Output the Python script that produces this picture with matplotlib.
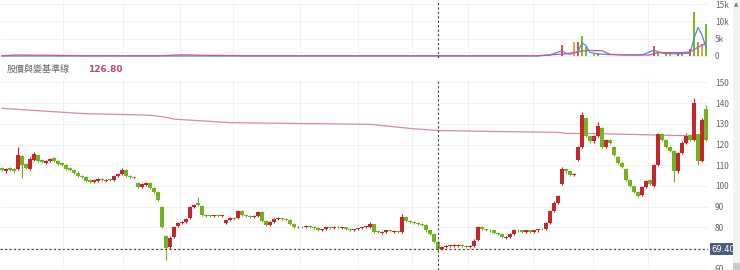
import numpy as np
import matplotlib
matplotlib.use("Agg")
import matplotlib.pyplot as plt
from matplotlib.patches import Rectangle

plt.rcParams['font.family'] = ['Noto Sans CJK TC', 'DejaVu Sans']

# daily candles
opens = [108.5, 107.0, 108.5, 108.0, 108.0, 114.5, 110.5, 108.0, 112.5, 115.0,
         112.5, 111.0, 112.0, 113.5, 112.0, 111.0, 110.0, 108.5, 107.5, 106.5,
         105.0, 104.5, 103.0, 102.0, 102.5, 103.5, 102.5, 103.2, 103.0, 105.0,
         106.0, 107.5, 105.0, 104.5, 101.5, 99.5, 100.5, 101.5, 99.0, 97.0,
         90.0, 76.0, 70.5, 75.5, 80.5, 82.0, 82.5, 84.5, 90.0, 92.0,
         90.5, 86.0, 85.8, 85.3, 86.0, 85.3, 82.0, 83.5, 84.5, 84.5,
         88.0, 86.0, 85.5, 85.0, 85.5, 87.5, 83.0, 81.0, 82.5, 84.0,
         84.5, 84.0, 83.5, 81.5, 80.0, 80.3, 80.0, 80.5, 80.0, 79.5,
         78.7, 79.0, 80.0, 79.5, 80.2, 79.6, 80.0, 79.2, 78.7, 79.0,
         79.5, 80.0, 80.0, 81.5, 78.0, 77.5, 78.0, 78.5, 78.0, 78.4,
         78.0, 85.0, 83.0, 82.7, 82.0, 81.5, 81.0, 78.5, 77.0, 73.0,
         69.4, 70.6, 71.0, 70.8, 71.0, 71.4, 71.2, 70.6, 71.0, 74.0,
         80.3, 79.0, 78.7, 78.5, 77.5, 77.0, 75.0, 75.5, 77.0, 78.7,
         78.5, 78.0, 78.5, 78.0, 78.5, 79.2, 79.0, 82.0, 88.0, 92.0,
         101.0, 108.0, 107.0, 105.5, 112.5, 119.0, 133.0, 124.0, 121.5, 124.0,
         128.0, 119.0, 122.0, 119.0, 114.0, 111.0, 108.0, 103.0, 100.0, 97.0,
         95.5, 99.5, 103.0, 100.0, 110.0, 125.0, 122.0, 119.0, 117.0, 107.0,
         116.0, 121.0, 124.5, 122.0, 125.0, 112.0, 137.0]
closes = [107.5, 108.0, 107.5, 107.0, 115.0, 110.0, 108.6, 113.0, 115.5, 112.0,
          111.5, 112.0, 113.0, 112.0, 110.5, 110.0, 108.0, 107.5, 106.5, 105.0,
          104.5, 102.5, 102.0, 103.0, 103.3, 102.8, 103.0, 102.8, 105.0, 106.0,
          107.7, 105.0, 104.3, 104.0, 99.6, 101.0, 101.5, 99.0, 97.0, 93.0,
          80.0, 70.0, 75.0, 80.0, 82.0, 82.5, 84.0, 90.0, 90.8, 91.0,
          86.0, 85.5, 85.5, 85.8, 85.5, 85.8, 83.5, 84.5, 84.0, 88.0,
          86.0, 85.5, 85.0, 85.5, 87.5, 83.0, 81.0, 82.5, 84.0, 84.5,
          84.0, 83.5, 81.5, 80.0, 80.3, 80.0, 80.5, 80.0, 79.5, 78.7,
          79.0, 80.0, 79.5, 80.2, 80.0, 80.0, 79.0, 78.7, 79.0, 79.5,
          80.0, 80.5, 81.5, 78.0, 77.9, 78.0, 78.5, 78.4, 78.4, 78.0,
          85.0, 83.0, 82.7, 82.0, 81.5, 81.0, 78.5, 77.0, 73.0, 69.4,
          70.6, 71.0, 71.0, 71.4, 71.4, 71.2, 70.6, 71.0, 73.5, 80.3,
          79.0, 78.7, 78.5, 77.5, 77.0, 75.5, 75.5, 77.0, 78.7, 78.5,
          78.0, 78.5, 78.0, 78.5, 79.0, 79.0, 82.0, 88.0, 92.0, 95.0,
          108.0, 107.0, 105.5, 106.0, 119.0, 134.5, 124.0, 121.5, 124.0, 129.0,
          119.0, 122.0, 121.0, 115.0, 111.0, 109.0, 103.0, 100.0, 97.0, 95.0,
          99.5, 102.5, 101.0, 110.0, 125.0, 122.0, 119.0, 117.0, 107.0, 116.0,
          121.0, 124.0, 122.0, 140.0, 112.0, 132.0, 122.0]
highs = [109.0, 108.5, 109.0, 108.5, 119.0, 115.0, 111.0, 114.0, 116.5, 115.5,
         113.0, 112.5, 113.5, 114.0, 112.5, 111.5, 110.5, 109.0, 108.0, 107.0,
         105.5, 105.0, 103.5, 103.5, 104.0, 104.0, 103.5, 103.7, 105.5, 106.5,
         108.5, 108.0, 105.5, 105.0, 102.0, 101.5, 102.0, 102.0, 99.5, 97.5,
         90.5, 76.5, 76.0, 80.5, 82.5, 83.0, 84.5, 90.5, 91.5, 94.8,
         91.0, 86.5, 86.0, 86.2, 86.3, 86.2, 84.0, 85.0, 85.0, 88.5,
         88.5, 86.5, 86.0, 85.8, 87.9, 87.8, 83.5, 83.0, 84.5, 85.0,
         85.0, 84.5, 84.0, 82.0, 80.8, 80.8, 81.0, 81.0, 80.5, 80.0,
         79.4, 80.4, 80.4, 80.6, 80.6, 80.4, 80.4, 79.5, 79.4, 79.9,
         80.4, 80.9, 82.7, 81.8, 78.4, 78.4, 78.9, 78.9, 78.8, 78.8,
         86.4, 85.4, 83.4, 83.1, 82.4, 81.9, 81.4, 78.9, 77.4, 73.4,
         71.0, 71.4, 71.5, 71.8, 71.8, 71.8, 71.6, 71.4, 74.4, 80.8,
         80.7, 79.4, 79.1, 78.9, 77.9, 77.4, 75.9, 77.4, 79.1, 79.0,
         78.9, 78.9, 78.9, 78.9, 79.4, 79.6, 82.4, 88.5, 92.5, 95.5,
         109.0, 108.5, 107.5, 106.5, 119.5, 135.8, 133.5, 124.5, 124.5, 131.0,
         128.5, 122.5, 122.5, 119.5, 114.5, 111.5, 108.5, 103.5, 100.5, 97.5,
         100.0, 103.0, 103.5, 110.5, 125.5, 125.5, 122.5, 119.5, 117.5, 116.5,
         121.5, 125.4, 125.0, 142.3, 125.5, 132.6, 139.0]
lows = [107.0, 106.5, 107.0, 106.5, 107.5, 104.0, 108.0, 107.5, 112.0, 111.5,
        111.0, 110.5, 111.5, 111.5, 110.0, 109.5, 107.5, 107.0, 106.0, 104.5,
        104.0, 102.0, 101.5, 101.5, 102.0, 102.3, 102.0, 102.3, 102.5, 104.5,
        105.5, 104.5, 103.8, 103.5, 99.0, 99.0, 100.0, 98.5, 96.5, 92.5,
        79.5, 64.0, 69.5, 75.0, 80.0, 81.5, 82.0, 84.0, 89.5, 90.5,
        85.5, 85.0, 85.0, 84.8, 85.0, 84.8, 81.5, 83.0, 83.5, 84.0,
        85.5, 85.0, 84.5, 84.5, 85.0, 82.5, 80.5, 80.5, 82.0, 83.5,
        83.5, 83.0, 81.0, 79.5, 79.5, 79.5, 79.5, 79.5, 79.0, 78.2,
        78.2, 78.5, 79.0, 79.0, 79.5, 79.2, 78.5, 78.2, 78.2, 78.5,
        79.0, 79.5, 79.5, 77.5, 77.4, 77.0, 77.5, 77.9, 77.5, 77.5,
        77.5, 82.5, 82.2, 81.5, 81.0, 80.5, 78.0, 76.5, 72.5, 67.4,
        69.0, 70.1, 70.5, 70.3, 70.5, 70.7, 70.1, 70.1, 70.5, 73.5,
        78.5, 78.2, 78.0, 77.0, 76.5, 75.0, 74.5, 75.0, 76.5, 78.0,
        77.5, 77.5, 77.5, 77.5, 78.0, 78.5, 78.5, 81.5, 87.5, 91.5,
        100.5, 106.5, 105.0, 105.0, 112.0, 118.5, 123.5, 121.0, 121.0, 123.5,
        118.5, 118.5, 120.5, 114.5, 110.5, 108.5, 102.5, 99.5, 96.5, 94.5,
        95.0, 99.0, 100.5, 99.5, 109.5, 121.5, 118.5, 116.5, 102.0, 106.5,
        115.5, 120.5, 121.5, 121.5, 110.0, 111.5, 121.5]

# 股價與變基準線 (pink reference line)
base_idx = [0, 20, 37, 41, 43, 57, 74, 92, 102, 109, 124, 139, 141, 149, 164, 176]
base_val = [137.5, 135.0, 134.2, 133.2, 132.3, 130.6, 130.2, 129.8, 127.8, 126.8,
            126.3, 125.9, 125.4, 125.3, 124.6, 124.1]

# upper panel series
pink_idx = [0, 4, 12, 20, 40, 45, 50, 60, 134, 138, 141, 145, 147, 150, 152, 155,
            162, 164, 170, 172, 174, 176]
pink_val = [100, 300, 200, 100, 100, 350, 200, 100, 100, 400, 600, 1400, 1600, 1500,
            500, 300, 300, 1000, 1000, 1200, 2500, 3700]
blue_idx = [0, 134, 137, 140, 141, 142, 144, 145, 146, 147, 149, 152, 160, 163, 165,
            168, 172, 173, 174, 175, 176]
blue_val = [0, 0, 300, 1500, 800, 500, 1200, 3800, 3000, 1000, 600, 400, 300, 1700,
            800, 600, 800, 5000, 8300, 6000, 2500]
green_idx = [137, 145, 146, 149, 164, 166, 170, 173, 174, 176]
green_val = [400, 5800, 2500, 800, 800, 600, 500, 12800, 4000, 9200]
red_idx = [140, 144, 163, 169, 172, 175]
red_val = [3200, 4000, 2900, 800, 2000, 3500]
orange_idx = [143, 148, 167, 174, 175]
orange_val = [4000, 1000, 700, 3800, 3000]

cross_i = 109
cross_price = 69.40
base_last = 126.80

price_ticks = [60, 70, 80, 90, 100, 110, 120, 130, 140, 150]
price_labels = ['60', '', '80', '90', '100', '110', '120', '130', '140', '150']
vol_ticks = [0, 5000, 10000, 15000]
vol_labels = ['0', '5k', '10k', '15k']
grid_idx = [15.25, 30.25, 44.5, 57.75, 74.5, 89, 102.5, 116.5, 132.75, 147.75, 161.5]

UP = '#c4262b'
DOWN = '#74b21f'
GRID = '#f0f0f0'
TXT = '#666666'

fig = plt.figure(figsize=(7.4, 2.7), dpi=100)
W = 708 / 740
ax_v = fig.add_axes([0, 212 / 270, W, 56 / 270])
ax = fig.add_axes([0, 0, W, 190 / 270])

n = len(closes)
x = np.arange(n)
o = np.array(opens)
c = np.array(closes)
up = c >= o
colors = np.where(up, UP, DOWN)

for a in (ax, ax_v):
    a.set_xlim(-0.5, n - 0.5)
    for s in a.spines.values():
        s.set_visible(False)
    a.yaxis.tick_right()
    a.tick_params(axis='y', length=0, labelsize=6, labelcolor=TXT, pad=5)
    a.tick_params(axis='x', length=0, labelbottom=False)
    a.set_xticks(grid_idx)
    a.grid(True, color=GRID, lw=0.6)
    a.set_axisbelow(True)
    a.axvline(cross_i, color='#444444', lw=0.8, ls=(0, (2, 2)), zorder=5)

# price panel
ax.set_ylim(59.4, 151.2)
ax.set_yticks(price_ticks)
ax.set_yticklabels(price_labels)
ax.vlines(x, lows, highs, colors=colors, lw=0.8, zorder=2)
ax.bar(x, np.maximum(np.abs(c - o), 0.3), bottom=np.minimum(o, c), width=0.82,
       color=colors, lw=0, zorder=3)
ax.plot(base_idx, base_val, color='#d98aa8', lw=0.9, zorder=2)
ax.axhline(cross_price, color='#444444', lw=0.8, ls=(0, (2, 2)), zorder=5)
ax.annotate(f'{cross_price:.2f}', xy=(1.0, cross_price),
            xycoords=('axes fraction', 'data'), xytext=(2.5, 0),
            textcoords='offset points', ha='left', va='center', fontsize=6,
            color='white', family='DejaVu Sans', annotation_clip=False,
            bbox=dict(boxstyle='square,pad=0.2', fc='#4e5c7e', ec='none'))

# upper panel
ax_v.set_ylim(-577, 15577)
ax_v.set_yticks(vol_ticks)
ax_v.set_yticklabels(vol_labels)
ax_v.bar(red_idx, red_val, width=0.35, color='#d9534f', lw=0, zorder=3)
ax_v.bar(orange_idx, orange_val, width=0.35, color='#f0a050', lw=0, zorder=3)
ax_v.bar(green_idx, green_val, width=0.4, color='#76bb2a', lw=0, zorder=3)
ax_v.plot(blue_idx, blue_val, color='#4f8fd6', lw=0.9, zorder=4)
ax_v.plot(pink_idx, pink_val, color='#c8589a', lw=0.9, zorder=4)

# legend row between panels
fig.text(7 / 740, 1 - 69 / 270, '股價與變基準線', fontsize=6.5, color='#666666',
         va='center', ha='left')
fig.text(88 / 740, 1 - 69 / 270, f'{base_last:.2f}', fontsize=6.5, color='#c2477f',
         va='center', ha='left', fontweight='bold', family='DejaVu Sans')

# scroll strip on the right
fig.patches.append(Rectangle((733 / 740, 0), 7 / 740, 1, transform=fig.transFigure,
                             fc='#f3f3f3', ec='none'))
fig.patches.append(Rectangle((733 / 740, 0), 7 / 740, 7 / 270, transform=fig.transFigure,
                             fc='#c9c9c9', ec='none'))
fig.text(736.5 / 740, 1 - 5 / 270, '▲', fontsize=4, color='#777777', ha='center',
         va='center', family='DejaVu Sans')

fig.savefig('out.png', dpi=100)
